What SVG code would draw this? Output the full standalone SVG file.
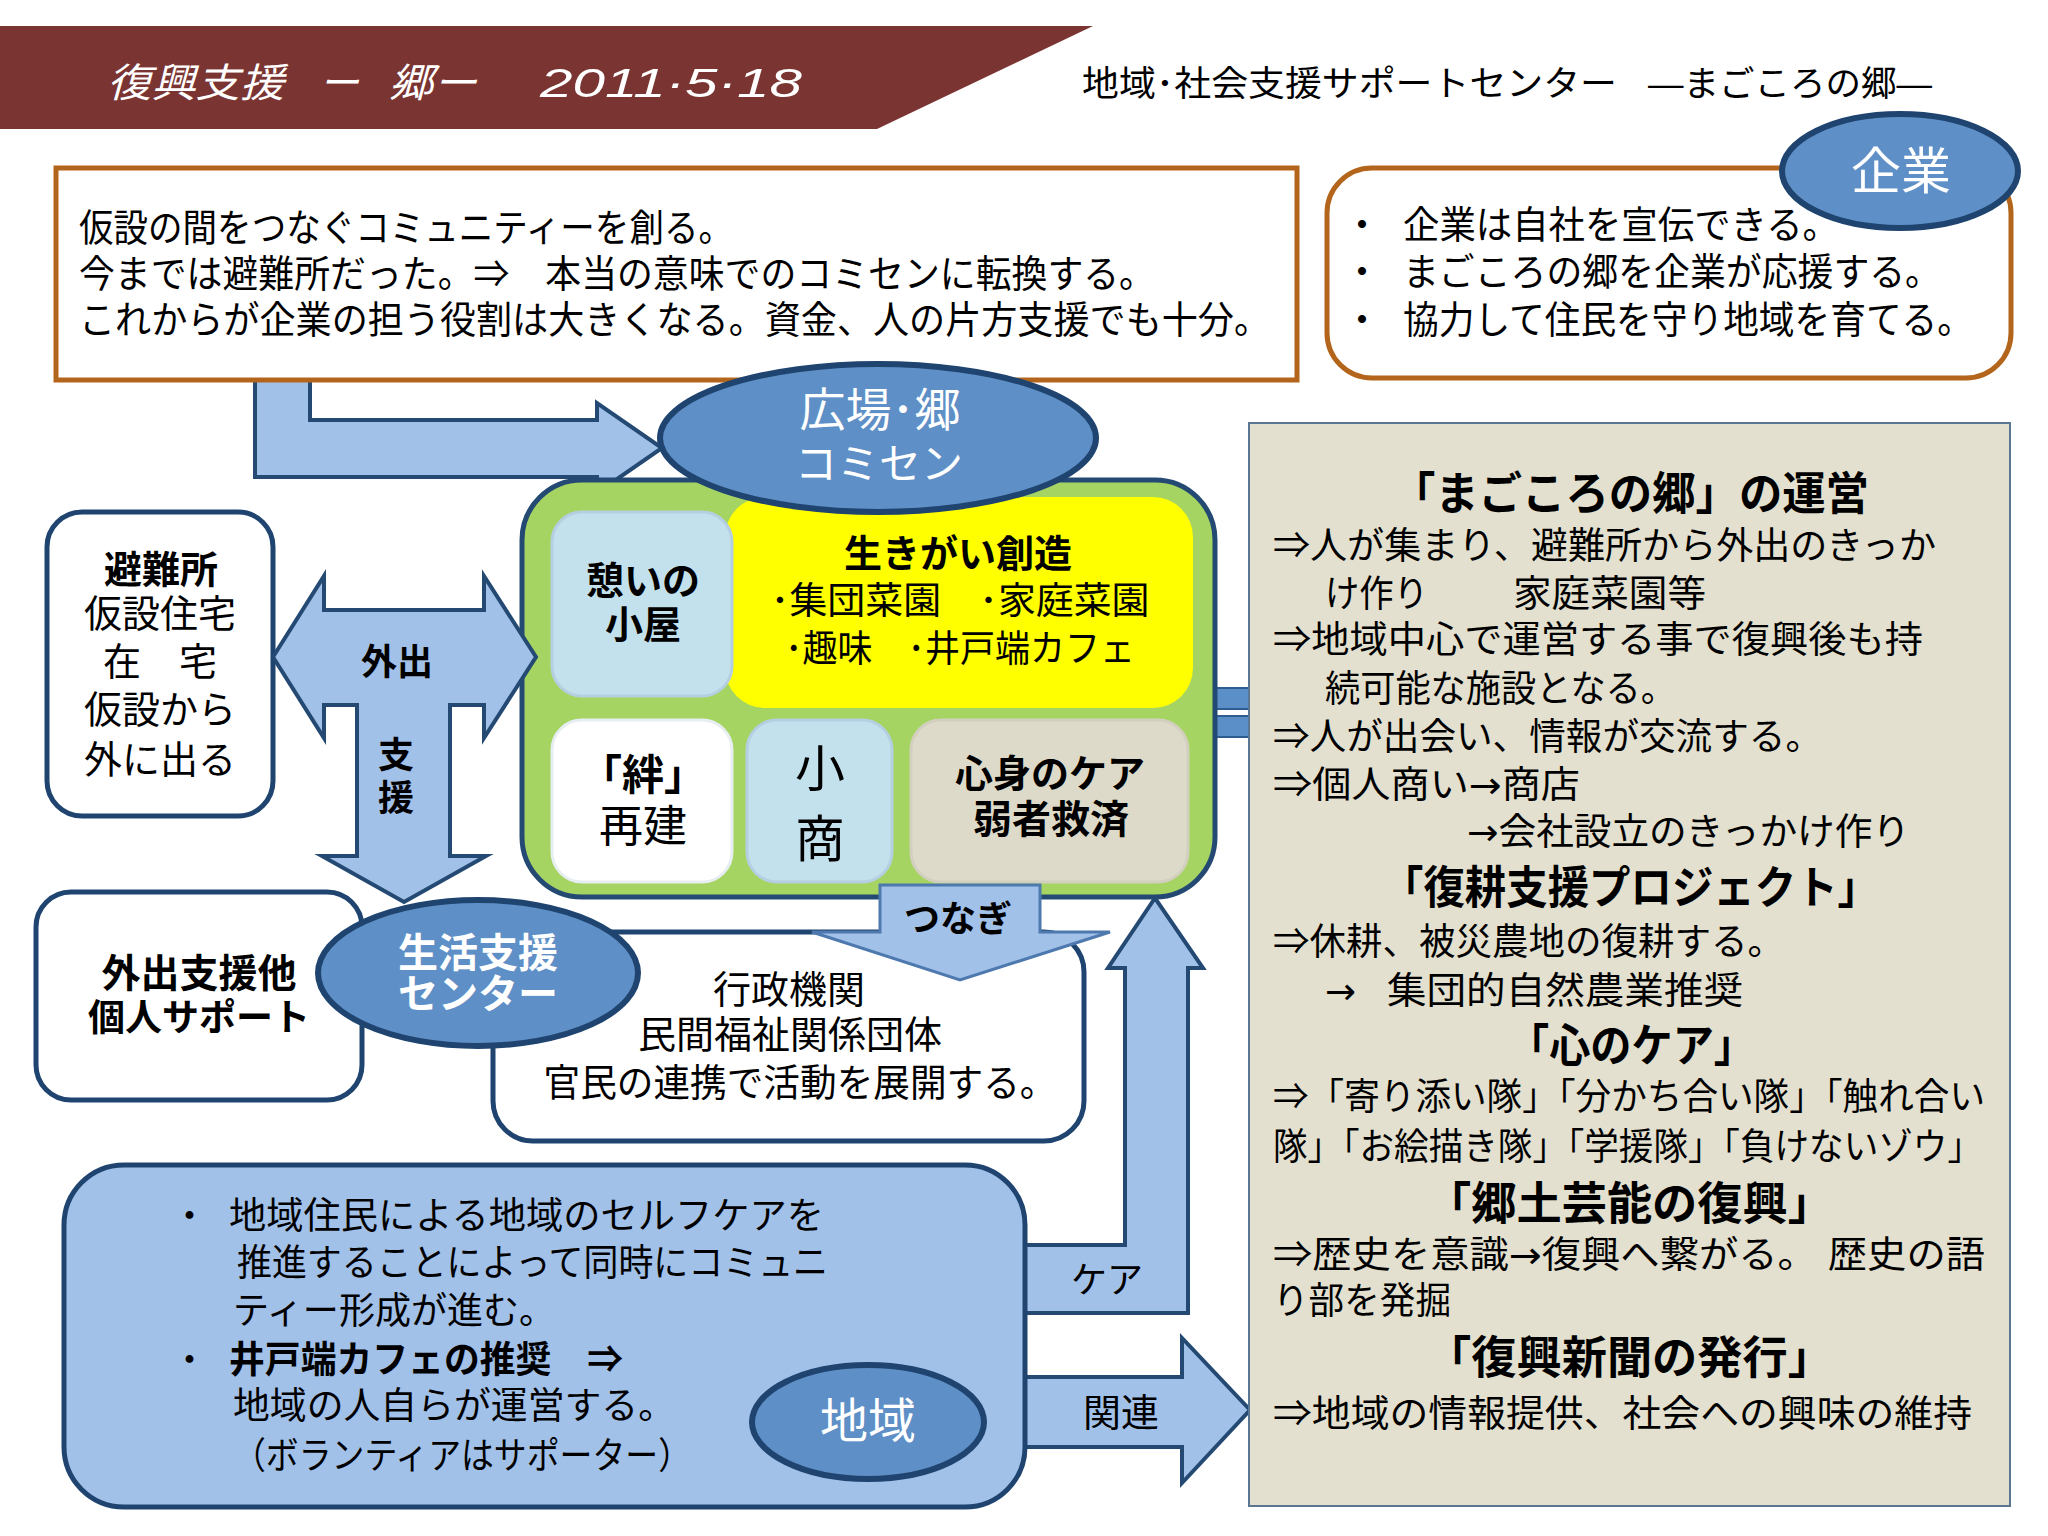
<svg xmlns="http://www.w3.org/2000/svg" width="2048" height="1536" viewBox="0 0 2048 1536">
<style>
.t{font-family:"Liberation Sans","Noto Sans CJK JP","Noto Sans CJK SC",sans-serif;fill:#000}
.b{font-weight:bold}
.w{fill:#fff}
.m{text-anchor:middle}
.ar{font-family:"DejaVu Sans",sans-serif}
.arr{fill:#A2C1E9;stroke:#244A73;stroke-width:4;stroke-linejoin:miter}
.nav{stroke:#1F4470;stroke-width:5}
.ell{fill:#5E8FC6;stroke:#1F4470;stroke-width:6}
</style>
<rect width="2048" height="1536" fill="#fff"/>
<g id="header">
<polygon points="0,26 1093,26 877,129 0,129" fill="#7A3432"/>
<text class="t w" font-size="40" font-style="italic" y="97"><tspan x="107" textLength="177" lengthAdjust="spacingAndGlyphs">復興支援</tspan><tspan x="319">ー</tspan><tspan x="389" textLength="88" lengthAdjust="spacingAndGlyphs">郷ー</tspan><tspan x="540" textLength="262" lengthAdjust="spacingAndGlyphs">2011·5·18</tspan></text>
<text class="t" font-size="35" y="96"><tspan x="1082" textLength="535" lengthAdjust="spacingAndGlyphs">地域･社会支援サポートセンター</tspan><tspan x="1648" textLength="284" lengthAdjust="spacingAndGlyphs">—まごころの郷—</tspan></text>
</g>
<g id="connectors">
<polygon class="arr" points="255,372 310,372 310,420 597,420 597,403 662,448 597,493 597,477 255,477"/>
<rect x="1215" y="688" width="35" height="21" fill="#5B8FC8" stroke="#2F5C8F" stroke-width="2"/>
<rect x="1215" y="716" width="35" height="21" fill="#5B8FC8" stroke="#2F5C8F" stroke-width="2"/>
<polygon class="arr" points="1020,1245 1125,1245 1125,968 1108,968 1155,898 1203,968 1188,968 1188,1313 1020,1313"/>
<polygon class="arr" points="1020,1377 1182,1377 1182,1338 1250,1410 1182,1483 1182,1447 1020,1447"/>
</g>
<g id="top-box">
<rect x="56" y="168" width="1241" height="212" fill="#fff" stroke="#B3651C" stroke-width="5"/>
<text class="t" font-size="38"><tspan x="79" y="241" textLength="654" lengthAdjust="spacingAndGlyphs">仮設の間をつなぐコミュニティーを創る。</tspan><tspan x="79" y="287" textLength="1076" lengthAdjust="spacingAndGlyphs">今までは避難所だった。⇒　本当の意味でのコミセンに転換する。</tspan><tspan x="79" y="333" textLength="1191" lengthAdjust="spacingAndGlyphs">これからが企業の担う役割は大きくなる。資金、人の片方支援でも十分。</tspan></text>
</g>
<g id="company-box">
<rect x="1327" y="168" width="684" height="210" rx="45" fill="#fff" stroke="#B3651C" stroke-width="5"/>
<text class="t" font-size="38"><tspan x="1343" y="238">・</tspan><tspan x="1343" y="285">・</tspan><tspan x="1343" y="333">・</tspan></text>
<text class="t" font-size="38"><tspan x="1403" y="238" textLength="436" lengthAdjust="spacingAndGlyphs">企業は自社を宣伝できる。</tspan><tspan x="1403" y="285" textLength="538" lengthAdjust="spacingAndGlyphs">まごころの郷を企業が応援する。</tspan><tspan x="1403" y="333" textLength="570" lengthAdjust="spacingAndGlyphs">協力して住民を守り地域を育てる。</tspan></text>
</g>
<g id="company">
<ellipse class="ell" cx="1900" cy="171" rx="118" ry="57"/>
<text class="t w m" x="1901" y="189" font-size="50">企業</text>
</g>
<g id="panel">
<rect x="1249" y="423" width="761" height="1083" fill="#E3E0CF" stroke="#5A7690" stroke-width="2"/>
<g class="t b" font-size="45">
<text x="1392" y="510" textLength="477" lengthAdjust="spacingAndGlyphs">「まごころの郷」の運営</text>
<text x="1382" y="904" textLength="497" lengthAdjust="spacingAndGlyphs">「復耕支援プロジェクト」</text>
<text x="1508" y="1062" textLength="247" lengthAdjust="spacingAndGlyphs">「心のケア」</text>
<text x="1426" y="1220" textLength="407" lengthAdjust="spacingAndGlyphs">「郷土芸能の復興」</text>
<text x="1426" y="1374" textLength="407" lengthAdjust="spacingAndGlyphs">「復興新聞の発行」</text>
</g>
<g class="t" font-size="37">
<text x="1273" y="559" textLength="663" lengthAdjust="spacingAndGlyphs">⇒人が集まり、避難所から外出のきっか</text>
<text x="1325" y="607" textLength="103" lengthAdjust="spacingAndGlyphs">け作り</text>
<text x="1513" y="607" textLength="193" lengthAdjust="spacingAndGlyphs">家庭菜園等</text>
<text x="1273" y="653" textLength="650" lengthAdjust="spacingAndGlyphs">⇒地域中心で運営する事で復興後も持</text>
<text x="1325" y="702" textLength="351" lengthAdjust="spacingAndGlyphs">続可能な施設となる。</text>
<text x="1273" y="750" textLength="549" lengthAdjust="spacingAndGlyphs">⇒人が出会い、情報が交流する。</text>
<text x="1273" y="798" textLength="307" lengthAdjust="spacingAndGlyphs">⇒個人商い<tspan class="ar">→</tspan>商店</text>
<text x="1467" y="845" textLength="443" lengthAdjust="spacingAndGlyphs"><tspan class="ar">→</tspan>会社設立のきっかけ作り</text>
<text x="1273" y="955" textLength="511" lengthAdjust="spacingAndGlyphs">⇒休耕、被災農地の復耕する。</text>
<text class="ar" x="1325" y="1004">→</text>
<text x="1387" y="1004" textLength="356" lengthAdjust="spacingAndGlyphs">集団的自然農業推奨</text>
<text x="1273" y="1110" textLength="712" lengthAdjust="spacingAndGlyphs">⇒「寄り添い隊」「分かち合い隊」「触れ合い</text>
<text x="1273" y="1160" textLength="709" lengthAdjust="spacingAndGlyphs">隊」「お絵描き隊」「学援隊」「負けないゾウ」</text>
<text x="1273" y="1268" textLength="712" lengthAdjust="spacingAndGlyphs">⇒歴史を意識<tspan class="ar">→</tspan>復興へ繋がる。 歴史の語</text>
<text x="1273" y="1314" textLength="178" lengthAdjust="spacingAndGlyphs">り部を発掘</text>
<text x="1273" y="1427" textLength="699" lengthAdjust="spacingAndGlyphs">⇒地域の情報提供、社会への興味の維持</text>
</g>
</g>
<g id="center">
<rect x="522" y="480" width="693" height="417" rx="60" fill="#A6D462" stroke="#244A73" stroke-width="5"/>
<rect x="725" y="497" width="468" height="211" rx="40" fill="#FFFF00"/>
<rect x="552" y="512" width="180" height="184" rx="30" fill="#C3E1EC" stroke="#B5CFE2" stroke-width="3"/>
<rect x="552" y="720" width="180" height="162" rx="30" fill="#fff" stroke="#E6EEF2" stroke-width="3"/>
<rect x="747" y="720" width="145" height="162" rx="30" fill="#C3E1EC" stroke="#B5CFE2" stroke-width="3"/>
<rect x="911" y="720" width="277" height="162" rx="30" fill="#DDDACA" stroke="#D2CFBE" stroke-width="3"/>
<g class="t m">
<text class="b" x="643" y="594" font-size="38">憩いの</text>
<text class="b" x="643" y="638" font-size="38">小屋</text>
<text class="b" x="958" y="567" font-size="38">生きがい創造</text>
<text x="960" y="614" font-size="37" textLength="379" lengthAdjust="spacingAndGlyphs">･集団菜園　･家庭菜園</text>
<text x="960" y="662" font-size="37" textLength="350" lengthAdjust="spacingAndGlyphs">･趣味　･井戸端カフェ</text>
<text class="b" x="643" y="790" font-size="42">「絆」</text>
<text x="643" y="842" font-size="44">再建</text>
<text x="820" y="787" font-size="50">小</text>
<text x="820" y="857" font-size="50">商</text>
<text class="b" x="1050" y="787" font-size="38">心身のケア</text>
<text class="b" x="1051" y="833" font-size="39">弱者救済</text>
</g>
</g>
<g id="hiroba">
<ellipse class="ell" cx="878" cy="438" rx="218" ry="74"/>
<text class="t w m" x="880" y="426" font-size="46">広場･郷</text>
<text class="t w m" x="879" y="479" font-size="42">コミセン</text>
</g>
<g id="shelter">
<rect x="47" y="512" width="226" height="304" rx="35" fill="#fff" class="nav"/>
<g class="t m" font-size="38">
<text class="b" x="161" y="583">避難所</text>
<text x="160" y="627">仮設住宅</text>
<text x="160" y="675">在　宅</text>
<text x="160" y="723">仮設から</text>
<text x="160" y="773">外に出る</text>
</g>
</g>
<g id="support-box">
<rect x="36" y="892" width="326" height="208" rx="35" fill="#fff" class="nav"/>
<text class="t b m" x="199" y="987" font-size="39">外出支援他</text>
<text class="t b m" x="199" y="1031" font-size="37">個人サポート</text>
</g>
<g id="gov-box">
<rect x="493" y="932" width="591" height="209" rx="40" fill="#fff" class="nav"/>
<g class="t m" font-size="38">
<text x="789" y="1003">行政機関</text>
<text x="790" y="1048">民間福祉関係団体</text>
<text x="800" y="1096" textLength="513" lengthAdjust="spacingAndGlyphs">官民の連携で活動を展開する。</text>
</g>
</g>
<g id="arrows-center">
<polygon class="arr" points="273,657 324,576 324,610 484,610 484,576 536,657 484,738 484,705 450,705 450,856 486,856 404,902 322,856 357,856 357,705 324,705 324,738"/>
<text class="t b m" x="397" y="675" font-size="36">外出</text>
<text class="t b m" x="396" y="768" font-size="36">支</text>
<text class="t b m" x="396" y="811" font-size="36">援</text>
<polygon points="880,885 1040,885 1040,932 1110,932 960,980 812,932 880,932" fill="#A2C1E9" stroke="#4D79AE" stroke-width="3"/>
<text class="t b m" x="958" y="932" font-size="36">つなぎ</text>
</g>
<g id="life-center">
<ellipse class="ell" cx="478" cy="973" rx="160" ry="73"/>
<text class="t b w m" x="478" y="967" font-size="40">生活支援</text>
<text class="t b w m" x="478" y="1008" font-size="40">センター</text>
</g>
<g id="community">
<rect x="64" y="1165" width="961" height="342" rx="60" fill="#A2C1E9" class="nav"/>
<g class="t" font-size="37">
<text x="171" y="1229">・</text>
<text x="229" y="1229" textLength="595" lengthAdjust="spacingAndGlyphs">地域住民による地域のセルフケアを</text>
<text x="237" y="1276" textLength="591" lengthAdjust="spacingAndGlyphs">推進することによって同時にコミュニ</text>
<text x="233" y="1324" textLength="322" lengthAdjust="spacingAndGlyphs">ティー形成が進む。</text>
<text x="171" y="1373">・</text>
<text class="b" x="229" y="1373" textLength="394" lengthAdjust="spacingAndGlyphs">井戸端カフェの推奨　⇒</text>
<text x="233" y="1419" textLength="442" lengthAdjust="spacingAndGlyphs">地域の人自らが運営する。</text>
<text x="233" y="1469" textLength="458" lengthAdjust="spacingAndGlyphs">（ボランティアはサポーター）</text>
</g>
<text class="t m" x="1107" y="1293" font-size="36">ケア</text>
<text class="t m" x="1121" y="1426" font-size="38">関連</text>
</g>
<g id="region">
<ellipse class="ell" cx="868" cy="1422" rx="116" ry="57"/>
<text class="t w m" x="868" y="1438" font-size="48">地域</text>
</g>
</svg>
